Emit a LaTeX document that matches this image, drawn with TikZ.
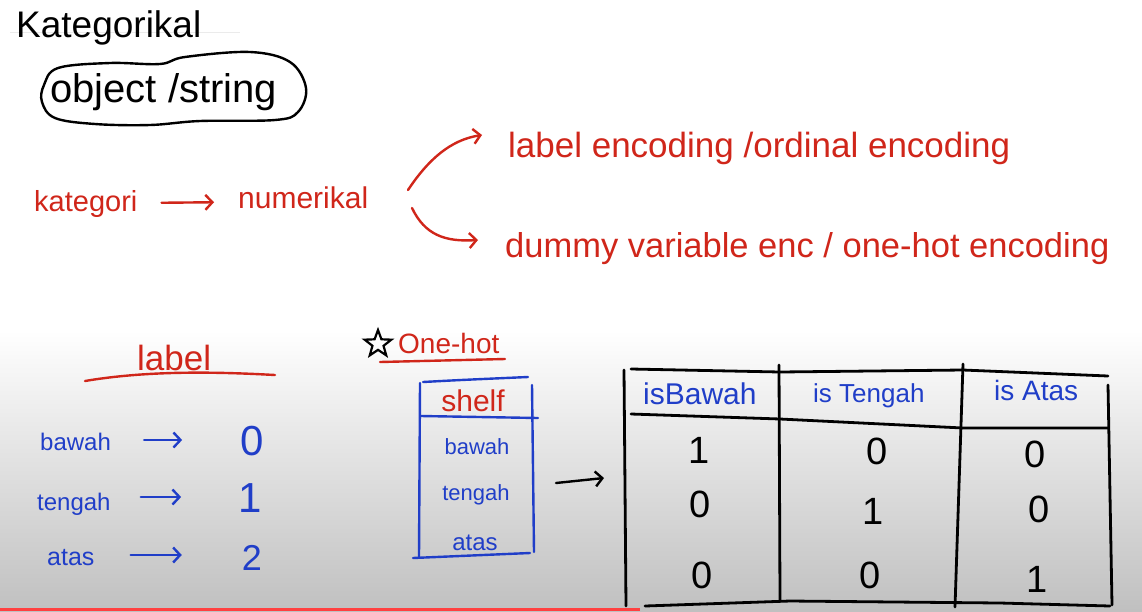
\documentclass[tikz,border=0pt]{standalone}
\usepackage{fontspec}
\setmainfont{Liberation Sans}
\usetikzlibrary{arrows.meta,shapes.geometric}
\definecolor{hred}{RGB}{208,38,26}
\definecolor{hblue}{RGB}{32,62,200}
\definecolor{bggray}{RGB}{192,192,192}
\newcommand\hfs[1]{\fontsize{#1}{#1}\selectfont}
\begin{document}
\begin{tikzpicture}[x=1pt,y=-1pt,
  txt/.style={inner sep=0pt, anchor=base west},
  ctxt/.style={inner sep=0pt, anchor=base},
  redt/.style={text=hred},
  bluet/.style={text=hblue},
  pen/.style={line width=2.4pt, line cap=round, line join=round},
  thickpen/.style={line width=2.8pt, line cap=round, line join=round},
  tip/.style={-{Straight Barb[length=7pt,width=15pt,line width=2.4pt]}}
]
\useasboundingbox (0,0) rectangle (1142,611);
% background
\fill[white] (0,0) rectangle (1142,611);
\shade[top color=white, bottom color=bggray] (0,330) rectangle (1142,611);
\fill[red!75] (0,608) rectangle (640,611);
\draw[black!8, line width=1pt] (10,32) -- (240,32);

% title and blob
\node[txt] (kt) at (16,37) {\hfs{37}Kategorikal};
\node[txt] (obj) at (50,102) {\hfs{40}object /string};
\draw[pen] plot[smooth cycle, tension=0.6] coordinates {(44,85) (58,68) (110,63) (160,64) (185,57) (250,52) (290,62) (306,88) (298,112) (275,120) (200,121) (150,125) (95,124) (55,118) (42,102)};

% red flow
\node[txt,redt] (kat) at (34,211) {\hfs{29}kategori};
\node[txt,redt] (num) at (238,208) {\hfs{30}numerikal};
\draw[pen,hred,tip,shorten <=24pt,shorten >=24pt] ([yshift=8pt]kat.base east) -- ([yshift=6pt]num.base west);
\node[txt,redt] (lab) at (508,157) {\hfs{35}label encoding /ordinal encoding};
\node[txt,redt] (dum) at (505,257) {\hfs{34.5}dummy variable enc / one-hot encoding};
\coordinate (b1) at (408,190);
\coordinate (b2) at (412,208);
\draw[pen,hred,tip] (b1) .. controls (428,160) and (450,140) .. ([xshift=-26pt,yshift=22pt]lab.base west);
\draw[pen,hred,tip] (b2) .. controls (425,235) and (445,242) .. ([xshift=-27pt,yshift=17pt]dum.base west);

% label encoding list
\node[txt,redt] (lbl) at (137,370) {\hfs{35}label};
\draw[pen,hred] (85,381) .. controls (150,370) and (220,372) .. (275,375);
\node[txt,bluet] (bw) at (40,450) {\hfs{24}bawah};
\node[txt,bluet] (tg) at (37,510) {\hfs{24}tengah};
\node[txt,bluet] (at) at (47,565) {\hfs{25}atas};
\node[ctxt,bluet] (n0) at (252,455) {\hfs{42}0};
\node[ctxt,bluet] (n1) at (250,512) {\hfs{42}1};
\node[ctxt,bluet] (n2) at (252,570) {\hfs{36}2};
\draw[pen,hblue,tip,shorten <=33pt,shorten >=58pt] ([yshift=10pt]bw.base east) -- ([yshift=15pt]n0.base west);
\draw[pen,hblue,tip,shorten <=30pt,shorten >=57pt] ([yshift=13pt]tg.base east) -- ([yshift=15pt]n1.base west);
\draw[pen,hblue,tip,shorten <=36pt,shorten >=60pt] ([yshift=10pt]at.base east) -- ([yshift=15pt]n2.base west);

% one-hot
\node[star, star points=5, star point ratio=2.4, draw, line width=2.2pt, minimum size=28pt, inner sep=0pt] (star) at (378,344) {};
\node[txt,redt] (oh) at (398,353) {\hfs{28}One-hot};
\draw[pen,hred] (380,362) -- (505,359);

% shelf box
\draw[pen,hblue] (423,382) .. controls (460,380) .. (528,377);
\draw[pen,hblue] (420,383) -- (419,557);
\draw[pen,hblue] (532,385) -- (534,552);
\draw[pen,hblue] (421,416) -- (538,418);
\draw[pen,hblue] (413,558) -- (530,553);
\node[ctxt,redt] (shelf) at (473,411) {\hfs{30}shelf};
\node[ctxt,bluet] (s1) at (477,454) {\hfs{22}bawah};
\node[ctxt,bluet] (s2) at (476,500) {\hfs{22}tengah};
\node[ctxt,bluet] (s3) at (475,550) {\hfs{24}atas};

% arrow to table
\coordinate (shelfR) at (556,483);
\coordinate (tabL) at (604,478);
\draw[pen,tip] (shelfR) -- (tabL);

% big table
\draw[thickpen] (631,369) -- (780,372) -- (963,370) -- (1108,376);
\draw[thickpen] (624,370) -- (626,606);
\draw[thickpen] (779,365) -- (780,600);
\draw[thickpen] (963,364) -- (955,607);
\draw[thickpen] (1108,385) -- (1112,605);
\draw[thickpen] (631,414) -- (780,419) -- (963,428) -- (1108,428);
\draw[thickpen] (645,606) -- (790,601) -- (1000,603) -- (1110,606);
\node[txt,bluet] (h1) at (643,404) {\hfs{30}isBawah};
\node[txt,bluet] (h2) at (813,402) {\hfs{26}is Tengah};
\node[txt,bluet] (h3) at (994,400) {\hfs{28}is Atas};
\node[ctxt] (v11) at (699,463) {\hfs{38}1};
\node[ctxt] (v12) at (877,464) {\hfs{38}0};
\node[ctxt] (v13) at (1035,467) {\hfs{38}0};
\node[ctxt] (v21) at (700,517) {\hfs{38}0};
\node[ctxt] (v22) at (873,524) {\hfs{38}1};
\node[ctxt] (v23) at (1039,522) {\hfs{38}0};
\node[ctxt] (v31) at (702,588) {\hfs{38}0};
\node[ctxt] (v32) at (870,588) {\hfs{38}0};
\node[ctxt] (v33) at (1037,592) {\hfs{38}1};
\end{tikzpicture}
\end{document}
